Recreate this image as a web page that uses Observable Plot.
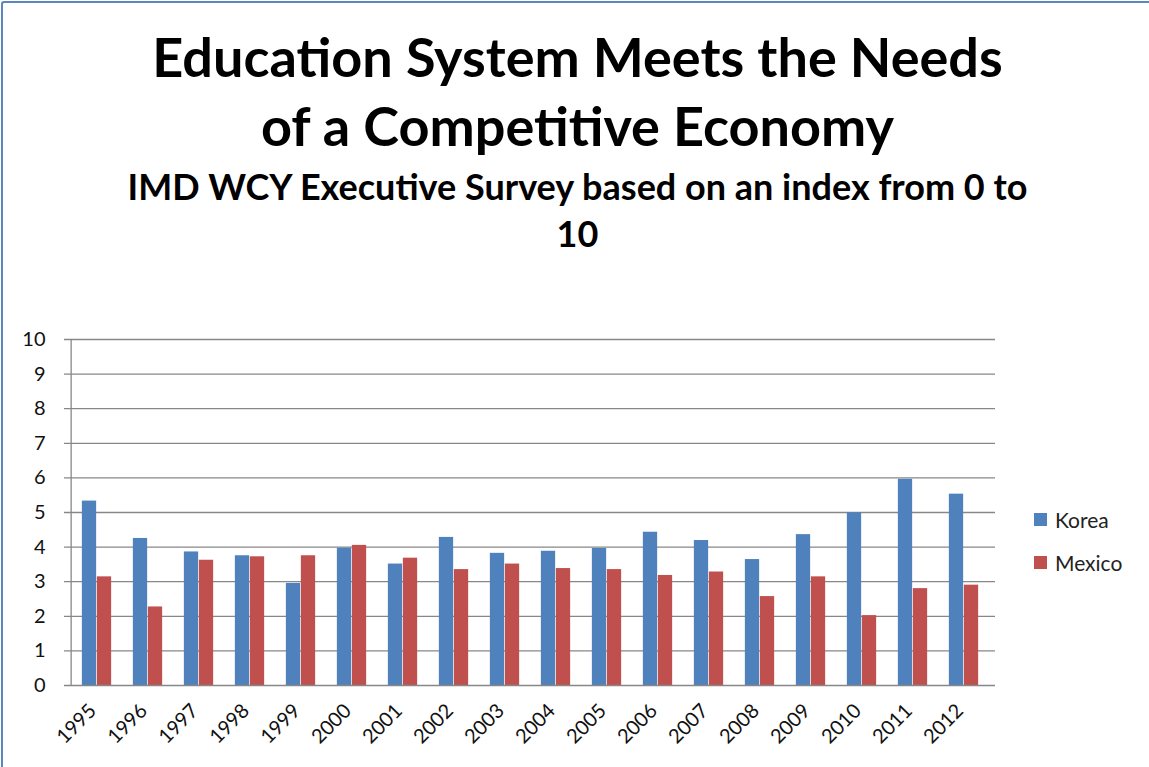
<!DOCTYPE html>
<html><head><meta charset="utf-8">
<script src="https://cdn.jsdelivr.net/npm/d3@7"></script>
<script src="https://cdn.jsdelivr.net/npm/@observablehq/plot@0.6"></script>
<style>
body{margin:0;background:#fff;}
#wrap{position:relative;width:1149px;height:767px;overflow:hidden;font-family:Lato,"Open Sans",sans-serif;background:#fff;}
#frame{position:absolute;left:1px;top:1px;width:1160px;height:780px;border-top:2px solid #5b86c0;border-left:2px solid #5b86c0;border-radius:3px;}
#title{position:absolute;left:3px;top:22px;width:1149px;text-align:center;font-weight:bold;font-size:54px;line-height:69px;color:#000;}
#subtitle{position:absolute;left:3px;top:163px;width:1149px;text-align:center;font-weight:bold;font-size:36px;line-height:47px;color:#000;}
#chart{position:absolute;left:0;top:300px;}
.lg{position:absolute;left:1034px;font-size:21px;color:#222;display:flex;align-items:center;}
.lg span.sw{display:inline-block;width:13px;height:13px;margin-right:8px;}
</style></head><body>
<div id="wrap">
  <div id="frame"></div>
  <div id="title">Education System Meets the Needs<br>of a Competitive Economy</div>
  <div id="subtitle">IMD WCY Executive Survey based on an index from 0 to<br>10</div>
  <div id="chart"></div>
  <div id="legend"></div>
</div>
<script>
const years = ["1995","1996","1997","1998","1999","2000","2001","2002","2003","2004","2005","2006","2007","2008","2009","2010","2011","2012"];
const korea = [5.33,4.25,3.86,3.75,2.95,3.97,3.51,4.28,3.82,3.88,3.96,4.43,4.19,3.64,4.36,4.99,5.96,5.53];
const mexico = [3.14,2.27,3.62,3.72,3.75,4.05,3.68,3.35,3.51,3.38,3.35,3.18,3.28,2.57,3.14,2.02,2.80,2.90];
const seriesNames = ["Korea","Mexico"];
const seriesColors = ["#4f81bd","#c0504d"];
const yTicks = [0,1,2,3,4,5,6,7,8,9,10];

const koreaRows = years.map((y,i)=>({year:y, country:"Korea", value:korea[i]}));
const mexicoRows = years.map((y,i)=>({year:y, country:"Mexico", value:mexico[i]}));

const W = 1149, H = 467, mL = 64, mR = 154;
const step = (W - mL - mR) / years.length;
const barW = 15;
const outer = (step - 2*barW)/2;

const chart = Plot.plot({
  width: W, height: H,
  marginTop: 39, marginBottom: 82, marginLeft: mL, marginRight: mR,
  style: {fontFamily: "Lato, 'Open Sans', sans-serif", fontSize: "20px", background: "transparent", color: "#000"},
  x: {domain: years, padding: 0, axis: null},
  y: {domain: [0, 10], axis: null},
  marks: [
    Plot.gridY(yTicks.slice(1), {stroke: "#878787", strokeOpacity: 1, strokeWidth: 1.3}),
    Plot.barY(koreaRows, {x: "year", y: "value", fill: seriesColors[0], insetLeft: outer, insetRight: outer + barW}),
    Plot.barY(mexicoRows, {x: "year", y: "value", fill: seriesColors[1], insetLeft: outer + barW, insetRight: outer}),
    Plot.ruleY([0], {stroke: "#878787", strokeWidth: 1.3}),
    Plot.ruleX([years[0]], {y1: 0, y2: 10, dx: -step/2, stroke: "#878787", strokeWidth: 1.3}),
    Plot.axisY(yTicks, {tickSize: 0, tickPadding: 19, fill: "#111", fontSize: 20, label: null}),
    Plot.axisX(years, {tickSize: 0, tickPadding: 22, tickRotate: -45, fill: "#111", fontSize: 20, label: null, dx: -4})
  ]
});
document.getElementById("chart").appendChild(chart);

const lg = document.getElementById("legend");
const legendTops = [507, 550];
seriesNames.forEach((n,i)=>{
  const d = document.createElement("div");
  d.className = "lg";
  d.style.top = legendTops[i] + "px";
  d.innerHTML = `<span class="sw" style="background:${seriesColors[i]}"></span>${n}`;
  lg.appendChild(d);
});
</script>
</body></html>
